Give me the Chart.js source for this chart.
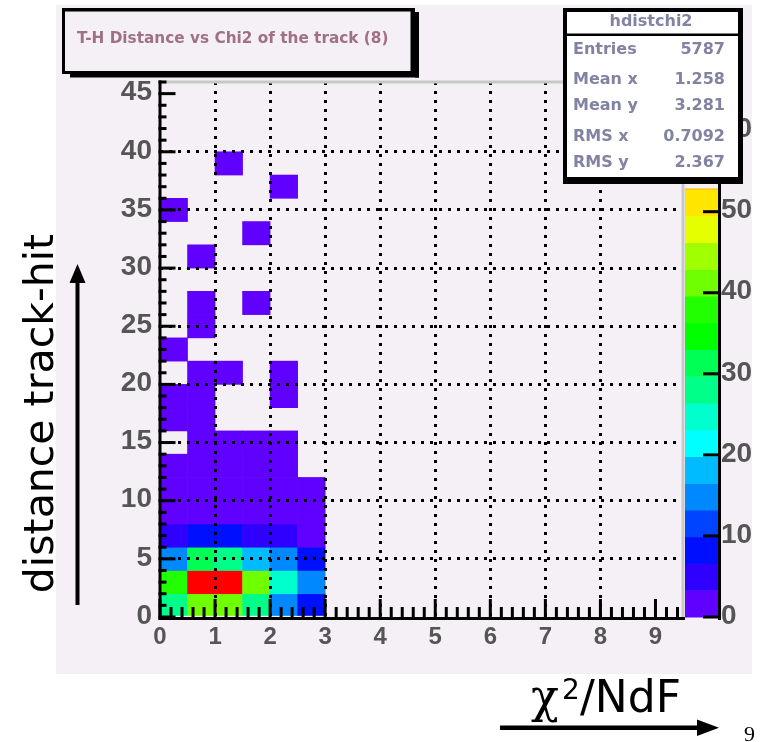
<!DOCTYPE html>
<html><head><meta charset="utf-8">
<script src="https://cdn.jsdelivr.net/npm/chart.js@4/dist/chart.umd.min.js"></script>
<style>html,body{margin:0;padding:0;background:#fff}canvas{display:block}</style>
</head><body><canvas id="c" width="762" height="742"></canvas>
<script>
// ---- data ----
const xLowEdges = [0, 0.5, 1, 1.5, 2, 2.5];           // chi2/NdF bin lower edges
const xBinWidth = 0.5;
const yLowEdges = [0,2,4,6,8,10,12,14,16,18,20,22,24,26,28,30,32,34,36,38]; // distance bin lower edges
const yBinWidth = 2;
// counts[row][col] : row = distance bin, col = chi2 bin
const counts = [
  [28, 41, 41, 28, 15, 8],
  [38, 66, 64, 41, 25, 15],
  [15, 31, 28, 18, 15, 8],
  [5, 8, 8, 5, 5, 2],
  [2, 2, 2, 2, 2, 1],
  [2, 2, 2, 1, 1, 1],
  [1, 1, 1, 1, 1, 0],
  [0, 1, 1, 1, 1, 0],
  [1, 1, 0, 0, 0, 0],
  [1, 1, 0, 0, 1, 0],
  [0, 1, 1, 0, 1, 0],
  [1, 0, 0, 0, 0, 0],
  [0, 1, 0, 0, 0, 0],
  [0, 1, 0, 1, 0, 0],
  [0, 0, 0, 0, 0, 0],
  [0, 1, 0, 0, 0, 0],
  [0, 0, 0, 1, 0, 0],
  [1, 0, 0, 0, 0, 0],
  [0, 0, 0, 0, 1, 0],
  [0, 0, 1, 0, 0, 0]
];
const xTickValues = [0,1,2,3,4,5,6,7,8,9];
const yTickValues = [0,5,10,15,20,25,30,35,40,45];
const zTickValues = [0,10,20,30,40,50,60];
const titleText = 'T-H Distance vs Chi2 of the track (8)';
const statsName = 'hdistchi2';
const statsLabels = ['Entries','Mean x','Mean y','RMS x','RMS y'];
const statsValues = ['5787','1.258','3.281','0.7092','2.367'];
const yTitle = 'distance track-hit';
const xTitleParts = ['\u03C7', '2', '/NdF'];
const pageNumber = '9';
const palette = ['#6000ff','#3000ff','#0010ff','#0044ff','#0088ff','#00bbff','#00ffff','#00ffcc','#00ff88','#00ff55',
                 '#00ff00','#22ff00','#70ff00','#a0ff00','#e6ff00','#ffe600','#ffb000','#ff8000','#ff4000','#ff0000'];

// ---- build ----
const zmax = Math.max(...counts.flat());
const cells = [];
counts.forEach((row, r) => row.forEach((n, c) => {
  if (n > 0) cells.push({ x: xLowEdges[c] + xBinWidth / 2, y: [yLowEdges[r], yLowEdges[r] + yBinWidth], n });
}));
function colourOf(n) {
  return palette[Math.min(palette.length - 1, Math.floor(0.01 + n * palette.length / zmax))];
}
const PAD = '#f5f0f5';

function text(ctx, s, x, y, font, color, align, baseline) {
  ctx.font = font; ctx.fillStyle = color;
  ctx.textAlign = align || 'left'; ctx.textBaseline = baseline || 'middle';
  ctx.fillText(s, x, y);
}

const rootPlugin = {
  id: 'rootFrame',
  beforeDraw(chart) {
    const ctx = chart.ctx;
    ctx.save();
    ctx.fillStyle = '#ffffff'; ctx.fillRect(0, 0, chart.width, chart.height);
    ctx.fillStyle = PAD; ctx.fillRect(56, 5, 696, 669);
    ctx.restore();
  },
  afterDraw(chart) {
    const ctx = chart.ctx, xs = chart.scales.x, ys = chart.scales.y, zs = chart.scales.z, a = chart.chartArea;
    ctx.save();
    // frame (grey top / right)
    ctx.fillStyle = '#c8c8c8';
    ctx.fillRect(a.left, a.top - 1.5, a.right - a.left, 3);
    ctx.fillRect(a.right - 1.5, a.top - 1.5, 3, a.bottom - a.top + 1.5);
    // palette
    const pl = a.right + 2, pr = 718;
    palette.forEach((col, k) => {
      const y0 = zs.getPixelForValue(k * zmax / palette.length);
      const y1 = zs.getPixelForValue((k + 1) * zmax / palette.length);
      ctx.fillStyle = col; ctx.fillRect(pl, y1, pr - pl, y0 - y1 + 0.5);
    });
    // axes
    ctx.fillStyle = '#000';
    ctx.fillRect(a.left - 1.5, a.top - 1.5, 3, a.bottom - a.top + 4.5);
    ctx.fillRect(a.left - 1.5, a.bottom, pl - a.left + 1.5, 3);
    // x ticks (major every 1, minor every 0.2)
    for (let i = 0; i <= 47; i++) {
      const v = i / 5, x = xs.getPixelForValue(v);
      const len = (i % 5 === 0) ? 18 : 10;
      ctx.fillRect(x - 1.5, a.bottom - len, 3, len);
    }
    // y ticks (major every 5, minor every 1)
    for (let i = 0; i <= 46; i++) {
      const y = ys.getPixelForValue(i);
      const len = (i % 5 === 0) ? 17 : 8;
      ctx.fillRect(a.left - 1.5, y - 1.5, len, 3);
    }
    // palette axis
    ctx.fillRect(pr, a.top - 1.5, 3, a.bottom - a.top + 4.5);
    zTickValues.forEach(v => { const y = zs.getPixelForValue(v); ctx.fillRect(pr - 15, y - 1.5, 15, 3); });

    // tick labels
    const labCol = '#555555';
    yTickValues.forEach(v => text(ctx, String(v), 152, ys.getPixelForValue(v) - 1, 'bold 28px "Liberation Sans"', labCol, 'right'));
    xTickValues.forEach(v => text(ctx, String(v), xs.getPixelForValue(v), 637, 'bold 24px "Liberation Sans"', labCol, 'center'));
    ctx.save();
    ctx.beginPath(); ctx.rect(pr, 0, 752 - pr, chart.height); ctx.clip();
    zTickValues.forEach(v => text(ctx, String(v), 721, zs.getPixelForValue(v) - 1, 'bold 28px "Liberation Sans"', labCol, 'left'));
    ctx.restore();

    // title box
    ctx.fillStyle = '#000';
    ctx.fillRect(62, 8, 353, 66);
    ctx.fillRect(70, 74, 349, 3.5);
    ctx.fillRect(415, 12, 4, 65.5);
    ctx.fillStyle = PAD; ctx.fillRect(65, 11.5, 345.5, 59.5);
    text(ctx, titleText, 77, 39, 'bold 15.3px "DejaVu Sans"', '#a07084', 'left');

    // stats box
    ctx.fillStyle = '#000';
    ctx.fillRect(563, 8, 180, 176);
    ctx.fillStyle = '#ffffff'; ctx.fillRect(567, 12, 171, 165);
    ctx.fillStyle = '#000'; ctx.fillRect(567, 33.5, 171, 2.5);
    const sCol = '#8282a2', sFont = 'bold 16px "DejaVu Sans"';
    text(ctx, statsName, 651, 22, sFont, sCol, 'center');
    const rowsY = [50, 80, 106, 136.5, 163];
    statsLabels.forEach((l, i) => {
      text(ctx, l, 573, rowsY[i], sFont, sCol, 'left');
      text(ctx, statsValues[i], 725, rowsY[i], sFont, sCol, 'right');
    });
    // strip between stats box and visible palette
    ctx.fillStyle = PAD; ctx.fillRect(pl, 184, pr - pl, 4.5);

    // y title + arrow
    ctx.save();
    ctx.translate(53, 413.5); ctx.rotate(-Math.PI / 2);
    text(ctx, yTitle, 0, 0, '41px "DejaVu Sans"', '#000', 'center', 'alphabetic');
    ctx.restore();
    ctx.fillStyle = '#000';
    ctx.fillRect(75.5, 280, 4, 325);
    ctx.beginPath(); ctx.moveTo(77.5, 264); ctx.lineTo(69.5, 283); ctx.lineTo(85.5, 283); ctx.closePath(); ctx.fill();

    // x title + arrow
    ctx.textAlign = 'left'; ctx.textBaseline = 'alphabetic'; ctx.fillStyle = '#000';
    ctx.font = '46px "DejaVu Serif"'; ctx.fillText(xTitleParts[0], 531, 712);
    ctx.font = '28px "DejaVu Sans"'; ctx.fillText(xTitleParts[1], 562, 699);
    ctx.font = '44px "DejaVu Sans"'; ctx.fillText(xTitleParts[2], 580, 712);
    ctx.fillRect(500, 725.5, 200, 4.5);
    ctx.beginPath(); ctx.moveTo(719, 727.7); ctx.lineTo(697, 719.5); ctx.lineTo(697, 736); ctx.closePath(); ctx.fill();
    text(ctx, pageNumber, 744, 741, '22px "Liberation Serif"', '#000', 'left', 'alphabetic');
    ctx.restore();
  }
};

new Chart(document.getElementById('c'), {
  type: 'bar',
  data: { datasets: [{
    data: cells,
    backgroundColor: c => colourOf(c.raw.n),
    borderWidth: 0,
    categoryPercentage: 1,
    barPercentage: 1,
    xAxisID: 'x', yAxisID: 'y'
  }] },
  options: {
    responsive: false, animation: false, devicePixelRatio: 1,
    layout: { padding: { left: 160, top: 82, right: 79, bottom: 125 } },
    plugins: { legend: { display: false }, tooltip: { enabled: false }, title: { display: false } },
    scales: {
      x: {
        type: 'linear', min: 0, max: 9.5, offset: false,
        ticks: { display: false, stepSize: 1 },
        grid: { offset: false, drawTicks: false, z: 1, lineWidth: 3,
                color: c => (c.tick && c.tick.value > 0 && Number.isInteger(c.tick.value)) ? '#000' : 'rgba(0,0,0,0)' },
        border: { display: false, dash: [3, 6] },
        afterFit: s => { s.height = 0; }
      },
      y: {
        type: 'linear', min: 0, max: 46,
        ticks: { display: false, stepSize: 5 },
        grid: { drawTicks: false, z: 1, lineWidth: 3,
                color: c => (c.tick && c.tick.value > 0 && c.tick.value % 5 === 0) ? '#000' : 'rgba(0,0,0,0)' },
        border: { display: false, dash: [3, 6] },
        afterFit: s => { s.width = 0; }
      },
      z: { type: 'linear', axis: 'y', display: false, position: 'right', min: 0, max: zmax }
    }
  },
  plugins: [rootPlugin]
});
</script>
</body></html>
